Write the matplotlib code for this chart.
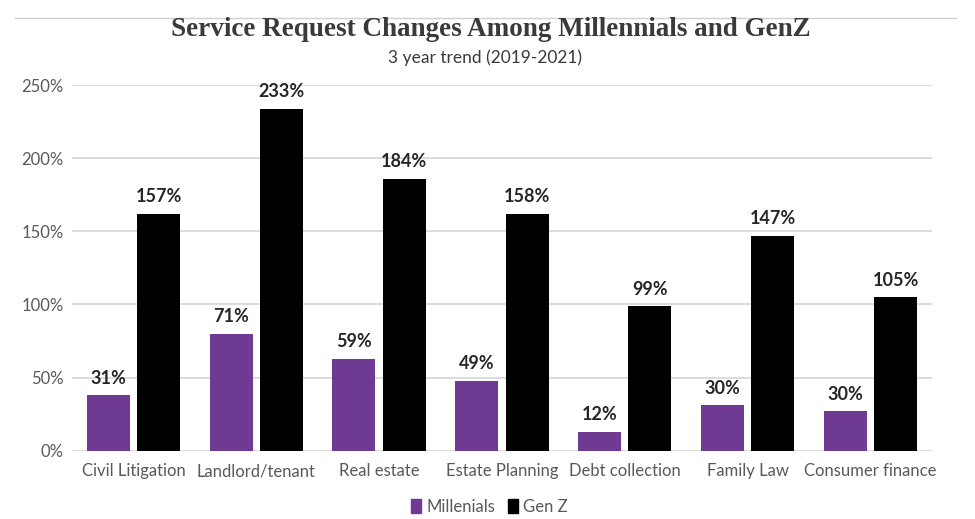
import matplotlib.pyplot as plt
import numpy as np
from matplotlib.lines import Line2D

categories = ['Civil Litigation', 'Landlord/tenant', 'Real estate', 'Estate Planning',
              'Debt collection', 'Family Law', 'Consumer finance']
# bar heights as drawn in the picture (percent)
millenials = [38, 80, 63, 48, 13, 31, 27]
gen_z = [162, 234, 186, 162, 99, 147, 105]
# value labels as printed above the bars
millenials_labels = ['31%', '71%', '59%', '49%', '12%', '30%', '30%']
gen_z_labels = ['157%', '233%', '184%', '158%', '99%', '147%', '105%']
y_ticks = [0, 50, 100, 150, 200, 250]

PURPLE = '#6f3a92'
GREY = '#595959'

plt.rcParams['font.family'] = ['Lato', 'DejaVu Sans']

fig = plt.figure(figsize=(9.75, 5.19), dpi=100)
ax = fig.add_axes([0.0738, 0.1316, 0.882, 0.7044])

x = np.arange(len(categories))
w = 0.35
gap = 0.03
b1 = ax.bar(x - w / 2 - gap, millenials, w, color=PURPLE, zorder=3)
b2 = ax.bar(x + w / 2 + gap, gen_z, w, color='black', zorder=3)

for bars, labels in ((b1, millenials_labels), (b2, gen_z_labels)):
    for rect, lab in zip(bars, labels):
        ax.annotate(lab, (rect.get_x() + rect.get_width() / 2, rect.get_height()),
                    xytext=(0, 6), textcoords='offset points', ha='center', va='bottom',
                    fontsize=13, fontweight='bold', color='#262626', annotation_clip=False)

ax.set_xlim(-0.5, len(categories) - 0.5)
ax.set_ylim(0, 250)
ax.set_yticks(y_ticks)
ax.set_yticklabels([f'{t}%' for t in y_ticks])
ax.set_xticks(x)
ax.set_xticklabels(categories)
ax.tick_params(axis='both', length=0, labelsize=12, labelcolor=GREY)
ax.tick_params(axis='x', pad=9)
ax.tick_params(axis='y', pad=6)
ax.grid(axis='y', color='#d9d9d9', linewidth=1.3, zorder=0)
for s in ax.spines.values():
    s.set_visible(False)

fig.text(0.503, 0.944, 'Service Request Changes Among Millennials and GenZ',
         ha='center', va='center', fontsize=19.5, fontweight='bold',
         family=['Liberation Serif'], color='#3a3a3a')
fig.text(0.497, 0.889, '3 year trend (2019-2021)', ha='center', va='center',
         fontsize=12.5, color='#3a3a3a')
fig.add_artist(Line2D([0.015, 0.98], [0.966, 0.966], color='#d0d0d0', linewidth=1))

handles = [plt.Rectangle((0, 0), 1, 1, color=PURPLE), plt.Rectangle((0, 0), 1, 1, color='black')]
fig.legend(handles, ['Millenials', 'Gen Z'], loc='center', bbox_to_anchor=(0.502, 0.024),
           ncol=2, frameon=False, fontsize=12, handlelength=0.6, handleheight=0.9,
           handletextpad=0.3, columnspacing=0.8, labelcolor=GREY)

fig.savefig('out.png', dpi=100)
